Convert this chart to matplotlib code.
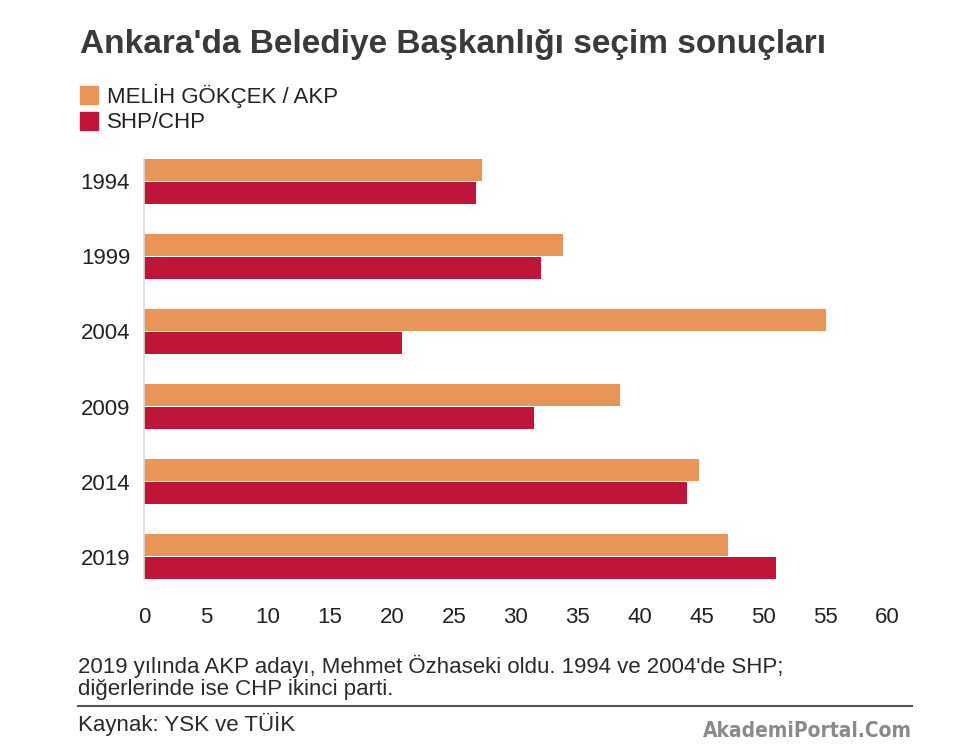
import matplotlib
matplotlib.use("Agg")
import matplotlib.pyplot as plt
import numpy as np
from matplotlib.patches import Rectangle
from matplotlib.lines import Line2D

plt.rcParams['font.family'] = ['Liberation Sans', 'DejaVu Sans']

# data
years = ['1994', '1999', '2004', '2009', '2014', '2019']
akp = [27.3, 33.8, 55.0, 38.4, 44.8, 47.1]
chp = [26.8, 32.0, 20.8, 31.5, 43.8, 51.0]
series_names = ['MELİH GÖKÇEK / AKP', 'SHP/CHP']
xticks = [0, 5, 10, 15, 20, 25, 30, 35, 40, 45, 50, 55, 60]

orange = '#E8955A'
red = '#BE1538'

fig = plt.figure(figsize=(9.76, 7.51), dpi=100)
ax = fig.add_axes([0.1475, 0.229, 0.7619, 0.5593])

y = np.arange(len(years))
h = 0.29
ax.barh(y - 0.152, akp, height=h, color=orange, edgecolor='none')
ax.barh(y + 0.152, chp, height=h, color=red, edgecolor='none')

ax.set_xlim(0, 60)
ax.set_ylim(len(years) - 1 + 0.297, -0.297)
ax.set_yticks(y)
ax.set_yticklabels(years)
ax.set_xticks(xticks)
ax.tick_params(axis='both', length=0, labelsize=16, colors='#222222')
ax.tick_params(axis='y', pad=10)
ax.tick_params(axis='x', pad=20)
for s in ['top', 'right', 'bottom']:
    ax.spines[s].set_visible(False)
ax.spines['left'].set_color('#dddddd')
ax.spines['left'].set_linewidth(1.2)

# title
fig.text(0.082, 1 - 53 / 751, "Ankara'da Belediye Başkanlığı seçim sonuçları",
         fontsize=24, fontweight='bold', color='#3a3a3a', va='baseline')

# legend drawn by hand
for i, (name, col) in enumerate(zip(series_names, [orange, red])):
    top = 86 + i * 26
    fig.patches.append(Rectangle((80 / 976, 1 - (top + 18) / 751), 18 / 976, 18 / 751,
                                 transform=fig.transFigure, color=col))
    fig.text(107 / 976, 1 - (top + 10) / 751, name, fontsize=16, color='#222222',
             va='center')

# footnote
fig.text(78 / 976, 1 - 666 / 751,
         "2019 yılında AKP adayı, Mehmet Özhaseki oldu. 1994 ve 2004'de SHP;",
         fontsize=16, color='#2a2a2a', va='center')
fig.text(78 / 976, 1 - 690 / 751, "diğerlerinde ise CHP ikinci parti.",
         fontsize=16, color='#2a2a2a', va='center')
fig.lines.append(Line2D([78 / 976, 912 / 976], [1 - 706 / 751, 1 - 706 / 751],
                        transform=fig.transFigure, color='#555555', lw=1.5))
fig.text(78 / 976, 1 - 724 / 751, "Kaynak: YSK ve TÜİK",
         fontsize=16, color='#2a2a2a', va='center')
fig.text(912 / 976, 1 - 731 / 751, "AkademiPortal.Com",
         fontsize=15, fontweight='bold', color='#8a8a8a', va='center', ha='right',
         family='DejaVu Sans', fontstretch='condensed')

fig.savefig('out.png', dpi=100)
